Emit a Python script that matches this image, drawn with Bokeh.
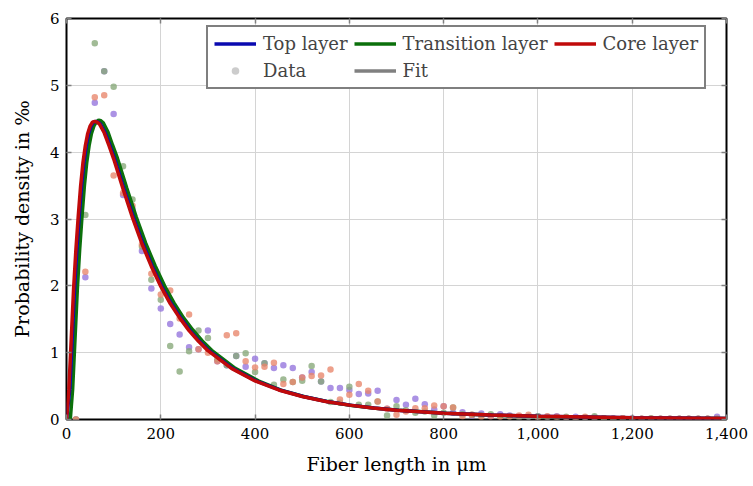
from bokeh.plotting import figure
from bokeh.models import (Range1d, FixedTicker, NumeralTickFormatter, LinearAxis,
                          Legend, LegendItem, ColumnDataSource)
from bokeh.embed import file_html
from bokeh.resources import INLINE

# ---------------- data ----------------
bins = [0, 20, 40, 60, 80, 100, 120, 140, 160, 180, 200, 220, 240, 260, 280, 300,
        320, 340, 360, 380, 400, 420, 440, 460, 480, 500, 520, 540, 560, 580, 600,
        620, 640, 660, 680, 700, 720, 740, 760, 780, 800, 820, 840, 860, 880, 900,
        920, 940, 960, 980, 1000, 1020, 1040, 1060, 1080, 1100, 1120, 1140, 1160,
        1180, 1200, 1220, 1240, 1260, 1280, 1300, 1320, 1340, 1360, 1380]

top_data = [0, 0, 2.13, 4.74, 5.21, 4.57, 3.36, 3.15, 2.52, 1.96, 1.66, 1.43, 1.27, 1.08,
            1.05, 1.33, 0.87, 0.81, 0.95, 0.79, 0.91, 0.84, 0.77, 0.81, 0.77, 0.63, 0.71,
            0.57, 0.47, 0.47, 0.44, 0.38, 0.39, 0.43, 0.16, 0.29, 0.22, 0.31, 0.23, 0.15,
            0.20, 0.10, 0.11, 0.06, 0.09, 0.05, 0.08, 0.06, 0.05, 0.04, 0.05, 0.04, 0.05,
            0.03, 0.04, 0.03, 0.03, 0.02, 0.02, 0.02, 0.02, 0.01, 0.01, 0.01, 0.01, 0.01,
            0.01, 0.01, 0.01, 0.04]

trans_data = [0, 0, 3.06, 5.63, 5.21, 4.98, 3.79, 3.29, 2.59, 2.09, 1.79, 1.10, 0.72, 1.02,
              1.33, 1.22, 0.90, 0.81, 0.95, 0.99, 0.71, 0.84, 0.52, 0.60, 0.56, 0.58, 0.80,
              0.57, 0.26, 0.25, 0.49, 0.22, 0.22, 0.27, 0.06, 0.20, 0.14, 0.10, 0.12, 0.06,
              0.10, 0.18, 0.08, 0.07, 0.06, 0.08, 0.05, 0.04, 0.03, 0.04, 0.05, 0.03, 0.02,
              0.04, 0.02, 0.03, 0.05, 0.02, 0.01, 0.02, 0.01, 0.01, 0.02, 0.01, 0.01, 0.01,
              0.01, 0.01, 0.01, 0.01]

core_data = [0, 0, 2.21, 4.82, 4.85, 3.65, 3.39, 3.20, 2.62, 2.18, 1.87, 1.93, 1.51, 1.57,
             1.05, 1.00, 0.87, 1.26, 1.29, 0.87, 0.78, 0.79, 0.85, 0.53, 0.56, 0.63, 0.65,
             0.66, 0.75, 0.30, 0.37, 0.53, 0.43, 0.27, 0.16, 0.07, 0.12, 0.17, 0.17, 0.21,
             0.20, 0.18, 0.05, 0.07, 0.04, 0.05, 0.04, 0.05, 0.06, 0.07, 0.03, 0.05, 0.04,
             0.03, 0.02, 0.04, 0.02, 0.02, 0.01, 0.02, 0.01, 0.01, 0.01, 0.01, 0.01, 0.01,
             0.01, 0.01, 0.01, 0.01]

# fitted curves
core_fit_x = [0, 5, 10, 15, 20, 25, 30, 35, 40, 45, 50, 55, 60, 65, 70, 80, 90, 100, 120,
              140, 160, 180, 200, 220, 240, 260, 280, 300, 350, 400, 450, 500, 550, 600,
              650, 700, 800, 900, 1000, 1200, 1400]
core_fit_y = [0, 0.45, 1.2, 1.95, 2.55, 3.05, 3.5, 3.85, 4.1, 4.28, 4.39, 4.45, 4.46, 4.45,
              4.42, 4.29, 4.1, 3.9, 3.45, 3.02, 2.63, 2.29, 1.99, 1.735, 1.52, 1.33, 1.17,
              1.03, 0.765, 0.577, 0.442, 0.344, 0.27, 0.215, 0.173, 0.14, 0.095, 0.066,
              0.047, 0.025, 0.015]

top_fit_x = [0, 7, 12, 17, 22, 27, 32, 37, 42, 47, 52, 57, 62, 67, 72, 82, 92, 102, 122,
             142, 162, 182, 202, 222, 242, 262, 282, 302, 352, 402, 452, 502, 552, 602,
             652, 702, 802, 902, 1002, 1202, 1400]
top_fit_y = [0, 0.45, 1.2, 1.95, 2.55, 3.05, 3.5, 3.85, 4.1, 4.28, 4.39, 4.45, 4.46, 4.45,
             4.42, 4.29, 4.1, 3.9, 3.45, 3.02, 2.63, 2.29, 1.99, 1.735, 1.52, 1.33, 1.17,
             1.03, 0.765, 0.577, 0.442, 0.344, 0.27, 0.215, 0.173, 0.14, 0.095, 0.066,
             0.047, 0.025, 0.015]

trans_fit_x = [0, 8, 13, 18, 23, 28, 33, 38, 43, 48, 53, 58, 63, 68, 73, 78, 88, 98, 108,
               128, 148, 168, 188, 208, 228, 248, 268, 288, 308, 358, 408, 455, 505, 555,
               605, 655, 705, 805, 905, 1005, 1205, 1400]
trans_fit_y = [0, 0, 0.45, 1.2, 1.95, 2.55, 3.05, 3.5, 3.85, 4.1, 4.28, 4.39, 4.45, 4.48,
               4.47, 4.44, 4.30, 4.1, 3.91, 3.46, 3.03, 2.64, 2.30, 2.0, 1.745, 1.525, 1.34,
               1.175, 1.035, 0.765, 0.575, 0.44, 0.34, 0.265, 0.21, 0.17, 0.137, 0.092,
               0.064, 0.045, 0.024, 0.014]

x_ticks = [0, 200, 400, 600, 800, 1000, 1200, 1400]
y_ticks = [0, 1, 2, 3, 4, 5, 6]

line_colors = ["#0a0ab0", "#0b700b", "#c00a0a"]
dot_colors = ["#9373dc", "#86a878", "#e8856a"]

# ---------------- figure ----------------
FONT = "DejaVu Serif"
p = figure(width=750, height=484, output_backend="svg", toolbar_location=None,
           x_range=Range1d(0, 1400), y_range=Range1d(0, 6),
           min_border_left=66, min_border_right=24, min_border_top=18, min_border_bottom=65)

p.outline_line_color = "black"
p.outline_line_width = 2
p.background_fill_color = "white"
p.border_fill_color = "white"

p.xgrid.ticker = FixedTicker(ticks=x_ticks)
p.ygrid.ticker = FixedTicker(ticks=y_ticks)
p.xgrid.grid_line_color = "#d4d4d4"
p.ygrid.grid_line_color = "#d4d4d4"
p.xgrid.grid_line_width = 1
p.ygrid.grid_line_width = 1

for ax, ticks in ((p.xaxis[0], x_ticks), (p.yaxis[0], y_ticks)):
    ax.ticker = FixedTicker(ticks=ticks)
    ax.major_tick_in = 5
    ax.major_tick_out = 0
    ax.major_tick_line_color = "#808080"
    ax.major_tick_line_width = 1.5
    ax.minor_tick_line_color = None
    ax.axis_line_color = None
    ax.major_label_text_font = FONT
    ax.major_label_text_font_size = "15px"
    ax.major_label_text_color = "black"
    ax.axis_label_text_font = FONT
    ax.axis_label_text_font_style = "normal"
    ax.axis_label_text_color = "black"

p.xaxis[0].formatter = NumeralTickFormatter(format="0,0")
p.xaxis[0].major_label_standoff = 8
p.xaxis[0].axis_label = "Fiber length in \u03bcm"
p.xaxis[0].axis_label_text_font_size = "19px"
p.xaxis[0].axis_label_standoff = 11
p.yaxis[0].major_label_standoff = 7
p.yaxis[0].axis_label = "Probability density in \u2030"
p.yaxis[0].axis_label_text_font_size = "19px"
p.yaxis[0].axis_label_standoff = 14

# mirrored tick marks on top and right (no labels drawn)
for loc, ticks in (("above", x_ticks), ("right", y_ticks)):
    ax = LinearAxis(ticker=FixedTicker(ticks=ticks))
    ax.major_tick_in = 5
    ax.major_tick_out = 0
    ax.major_tick_line_color = "#808080"
    ax.major_tick_line_width = 1.5
    ax.minor_tick_line_color = None
    ax.axis_line_color = None
    ax.major_label_text_color = None
    ax.major_label_text_font_size = "1px"
    ax.major_label_standoff = 0
    p.add_layout(ax, loc)

# data points
for vals, col in zip((top_data, trans_data, core_data), dot_colors):
    src = ColumnDataSource(dict(x=bins, y=vals))
    p.scatter("x", "y", source=src, size=6.5, fill_color=col, line_color=None,
              fill_alpha=0.78)

# fitted curves (green, blue, red drawing order)
fit_renderers = {}
for name, fx, fy, col in (("Transition layer", trans_fit_x, trans_fit_y, line_colors[1]),
                          ("Top layer", top_fit_x, top_fit_y, line_colors[0]),
                          ("Core layer", core_fit_x, core_fit_y, line_colors[2])):
    src = ColumnDataSource(dict(x=fx, y=fy))
    fit_renderers[name] = p.line("x", "y", source=src, line_color=col, line_width=3.5)

# legend-only renderers (a single NaN point, so nothing is drawn in the plot)
nan_src = ColumnDataSource(dict(x=[float("nan")], y=[float("nan")]))
data_r = p.scatter("x", "y", source=nan_src, size=7, fill_color="#cccccc", line_color=None)
fit_r = p.line("x", "y", source=nan_src, line_color="#808080", line_width=3.5)

items = [LegendItem(label="Top layer", renderers=[fit_renderers["Top layer"]]),
         LegendItem(label="Transition layer", renderers=[fit_renderers["Transition layer"]]),
         LegendItem(label="Core layer", renderers=[fit_renderers["Core layer"]]),
         LegendItem(label="Data", renderers=[data_r]),
         LegendItem(label="Fit", renderers=[fit_r])]
legend = Legend(items=items, location=(140, 330), orientation="horizontal", ncols=3,
                label_text_font=FONT, label_text_font_size="18px",
                border_line_color="black", border_line_width=2,
                background_fill_alpha=1.0, glyph_width=42, glyph_height=19,
                label_height=19, label_standoff=7, spacing=6, padding=6, margin=0)
p.add_layout(legend)

open("out.html", "w").write(file_html(p, INLINE))
